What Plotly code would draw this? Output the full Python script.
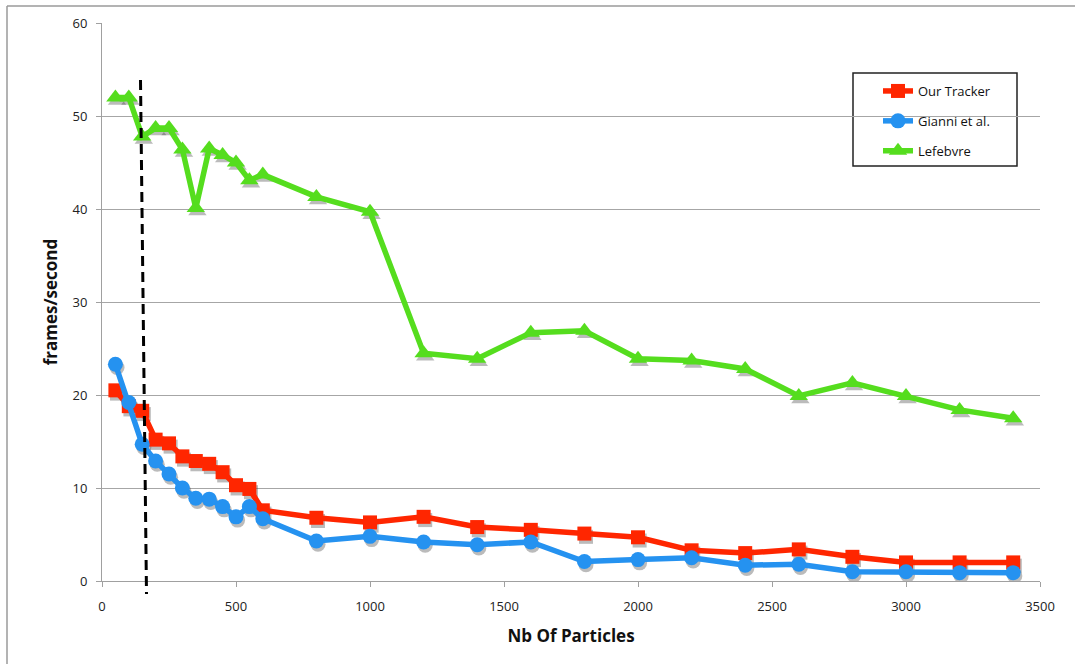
import plotly.graph_objects as go

# Number of particles tested
particles = [50, 100, 150, 200, 250, 300, 350, 400, 450, 500, 550, 600,
             800, 1000, 1200, 1400, 1600, 1800, 2000, 2200, 2400, 2600,
             2800, 3000, 3200, 3400]

# Frame rates (frames/second) for each tracker
our_tracker = [20.5, 18.8, 18.3, 15.2, 14.8, 13.4, 12.9, 12.6, 11.7, 10.3, 9.9, 7.6,
               6.8, 6.3, 6.9, 5.8, 5.5, 5.1, 4.7, 3.3, 3.0, 3.4,
               2.6, 2.0, 2.0, 2.0]
gianni = [23.3, 19.2, 14.7, 12.9, 11.5, 10.0, 8.9, 8.8, 8.0, 6.9, 8.0, 6.7,
          4.3, 4.8, 4.2, 3.9, 4.2, 2.1, 2.3, 2.5, 1.7, 1.8,
          1.0, 1.0, 0.9, 0.9]
lefebvre = [52.0, 52.0, 47.8, 48.7, 48.7, 46.4, 40.1, 46.5, 45.8, 45.0, 43.1, 43.7,
            41.3, 39.7, 24.5, 23.9, 26.7, 26.9, 23.9, 23.7, 22.8, 19.9,
            21.3, 19.9, 18.4, 17.5]

series = [
    ("Our Tracker", our_tracker, "#ff2600", "square", 14),
    ("Gianni et al.", gianni, "#2592f0", "circle", 15),
    ("Lefebvre", lefebvre, "#55dd1e", "triangle-up", 16),
]

FONT = "Open Sans, Lato, sans-serif"

# small drop-shadow offset under each marker (in data units)
SHADOW_DX, SHADOW_DY = 6, -0.35

fig = go.Figure()
for name, vals, color, symbol, size in series:
    fig.add_trace(go.Scatter(
        x=[v + SHADOW_DX for v in particles], y=[v + SHADOW_DY for v in vals],
        mode="markers", showlegend=False, hoverinfo="skip",
        marker=dict(symbol=symbol, size=size, color="rgba(60,60,60,0.35)", line=dict(width=0)),
    ))
for name, vals, color, symbol, size in series:
    fig.add_trace(go.Scatter(
        x=particles, y=vals, name=name, mode="lines+markers", legendgroup=name,
        line=dict(color=color, width=5.5),
        marker=dict(symbol=symbol, size=size, color=color, line=dict(width=0)),
    ))

W, H = 1075, 664
ml, mr, mt, mb = 102, 35, 23, 83
pw, ph = W - ml - mr, H - mt - mb


def px(x):
    return (x - ml) / pw


def py(y):
    return (H - mb - y) / ph


shapes = [
    # outer frame around the chart
    dict(type="line", xref="paper", yref="paper", x0=px(7), x1=px(W + 5),
         y0=py(6), y1=py(6), line=dict(color="#9a9a9a", width=1.5)),
    dict(type="line", xref="paper", yref="paper", x0=px(7), x1=px(7),
         y0=py(6), y1=py(H + 5), line=dict(color="#9a9a9a", width=1.5)),
    # legend frame
    dict(type="rect", xref="paper", yref="paper", x0=px(853), x1=px(1017),
         y0=py(73), y1=py(166), fillcolor="white", layer="below",
         line=dict(color="#222222", width=1.5)),
    # dashed threshold marker near 150 particles
    dict(type="line", xref="paper", yref="paper", x0=px(140.5), x1=px(146.5),
         y0=py(80), y1=py(594), line=dict(color="black", width=3, dash="10px,6px")),
]

fig.update_layout(
    width=W, height=H,
    margin=dict(l=ml, r=mr, t=mt, b=mb),
    paper_bgcolor="white", plot_bgcolor="white",
    font=dict(family=FONT, size=13, color="#222222"),
    shapes=shapes,
    showlegend=True,
    legend=dict(
        x=px(878), y=py(76), xanchor="left", yanchor="top",
        borderwidth=0, bgcolor="rgba(0,0,0,0)",
        font=dict(family=FONT, size=13, color="#111111"),
        itemwidth=30, traceorder="grouped", tracegroupgap=10,
    ),
    xaxis=dict(
        range=[0, 3500], tickvals=[0, 500, 1000, 1500, 2000, 2500, 3000, 3500],
        showgrid=False, zeroline=False, showline=True, linecolor="#a0a0a0", linewidth=1,
        ticks="outside", ticklen=5, tickcolor="#a0a0a0", ticklabelstandoff=8,
        tickfont=dict(family=FONT, size=13, color="#222222"),
        title=dict(text="<b>Nb Of Particles</b>", font=dict(family=FONT, size=17, color="#111111"),
                   standoff=16),
    ),
    yaxis=dict(
        range=[0, 60], tickvals=[0, 10, 20, 30, 40, 50, 60],
        showgrid=True, gridcolor="#a6a6a6", gridwidth=1.2,
        zeroline=False, showline=True, linecolor="#a0a0a0", linewidth=1,
        ticks="outside", ticklen=5, tickcolor="#a0a0a0", ticklabelstandoff=6,
        tickfont=dict(family=FONT, size=13, color="#222222"),
        title=dict(text="<b>frames/second</b>", font=dict(family=FONT, size=17, color="#111111"),
                   standoff=10),
    ),
)

fig.write_html("out.html")
